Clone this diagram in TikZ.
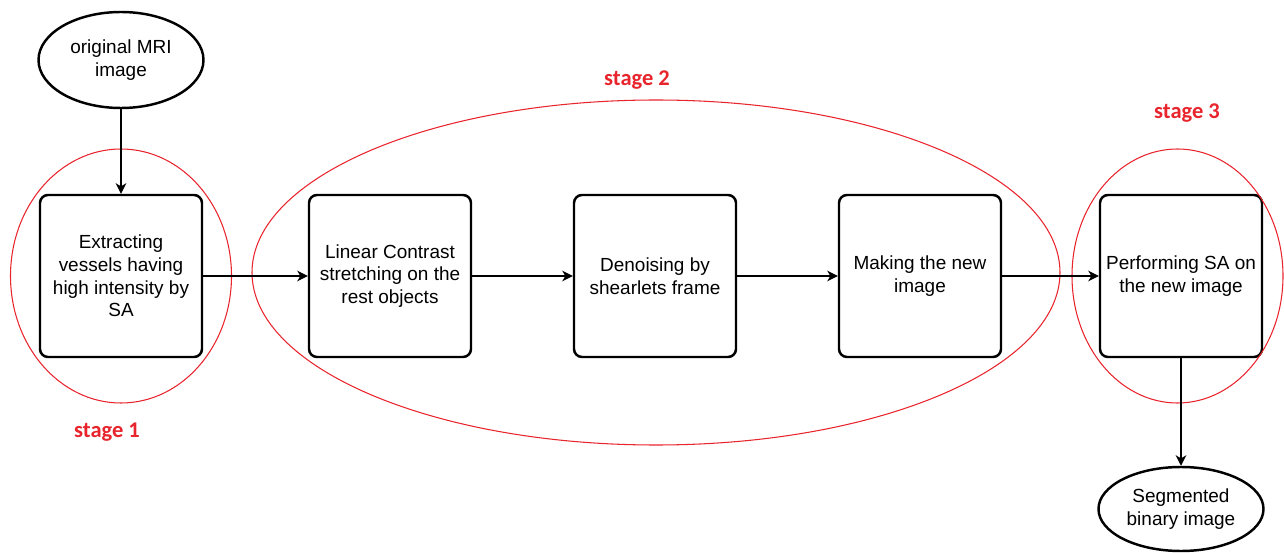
\documentclass[tikz,border=0pt]{standalone}
\usepackage{fontspec}
\setmainfont{Liberation Sans}
\newfontfamily\stagefont{Carlito}
\usetikzlibrary{arrows.meta,shapes,positioning}
\definecolor{ringred}{RGB}{232,36,44}
\tikzset{
  procbox/.style={draw,line width=1.4pt,rounded corners=0.16cm,minimum width=3.24cm,minimum height=3.24cm,
    align=center,font=\fontsize{10.8}{12.9}\selectfont},
  terminal/.style={draw,ellipse,line width=1.4pt,minimum width=3.3cm,minimum height=1.92cm,inner sep=0pt,
    align=center,font=\fontsize{10.8}{12.9}\selectfont},
  ring/.style={draw=ringred,ellipse,line width=0.6pt,inner sep=0pt},
  stagelabel/.style={text=ringred,font=\stagefont\bfseries\fontsize{12.8}{15}\selectfont}
}
\begin{document}
\begin{tikzpicture}[->,>={Stealth[length=6pt,width=6pt,inset=1.8pt]},auto,node distance=5.3cm,line width=0.75pt]
        \useasboundingbox (0,0) rectangle (25.68,-11.06);
        \node[procbox] (B1) at (2.42,-5.52) {Extracting\\vessels having\\high intensity by\\SA};
        \node[procbox] (B2) [right of=B1, node distance=5.38cm] {Linear Contrast\\stretching on the\\rest objects};
        \node[procbox] (B3) [right of=B2] {Denoising by\\shearlets frame};
        \node[procbox] (B4) [right of=B3] {Making the new\\image};
        \node[procbox] (B5) [right of=B4, node distance=5.22cm] {Performing SA on\\the new image};
        \node[terminal] (MRI) [above of=B1, node distance=4.32cm] {original MRI\\image};
        \node[terminal, minimum height=1.68cm] (SEG) [below of=B5, node distance=4.66cm] {Segmented\\binary image};

        % stages
        \node[ring, minimum width=4.42cm, minimum height=5.08cm] (S1) at (B1) {};
        \node[ring, minimum width=16.16cm, minimum height=6.9cm] (S2) at (13.12,-5.45) {};
        \node[ring, minimum width=4.22cm, minimum height=5.08cm] (S3) at (23.55,-5.52) {};
        \node[stagelabel] (L1) at (2.14,-8.64) {stage 1};
        \node[stagelabel] (L2) at (12.74,-1.6) {stage 2};
        \node[stagelabel] (L3) at (23.74,-2.26) {stage 3};

        \path
        (MRI) edge (B1)
        (B1) edge (B2)
        (B2) edge (B3)
        (B3) edge (B4)
        (B4) edge (B5)
        (B5) edge (SEG)
        ;
    \end{tikzpicture}
\end{document}
